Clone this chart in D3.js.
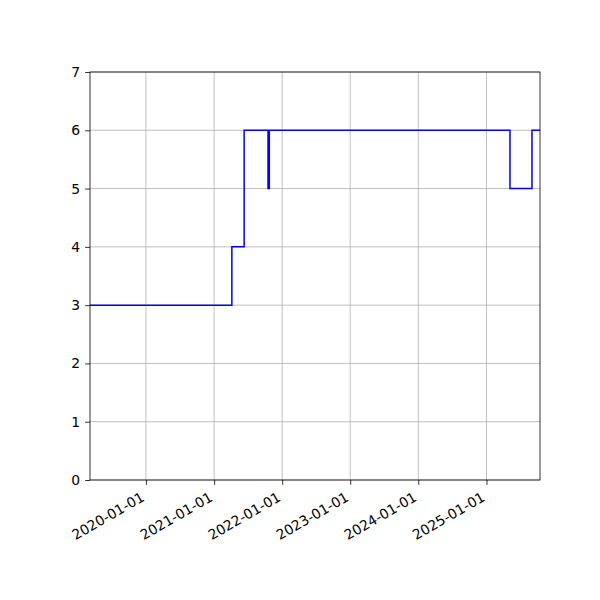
<!DOCTYPE html>
<html>
<head>
<meta charset="utf-8">
<script src="https://cdn.jsdelivr.net/npm/d3@7"></script>
<style>
  body { margin: 0; background: #fff; }
  svg text { font-family: "DejaVu Sans", sans-serif; }
</style>
</head>
<body>
<div id="chart"></div>
<script>
// step series, values (post-step)
const dates = ["2019-03-07", "2021-04-06", "2021-06-11", "2021-10-17", "2021-10-24",
               "2025-05-07", "2025-09-02", "2025-10-15"];
const values = [3, 4, 6, 5, 6, 5, 6, 6];
const yTicks = [0, 1, 2, 3, 4, 5, 6, 7];
const xTicks = ["2020-01-01", "2021-01-01", "2022-01-01", "2023-01-01", "2024-01-01", "2025-01-01"];

const margin = {top: 72, right: 60, bottom: 120, left: 90},
    width = 600 - margin.left - margin.right,
    height = 600 - margin.top - margin.bottom;

const parse = d3.utcParse("%Y-%m-%d");
const data = dates.map((d, i) => ({date: parse(d), value: values[i]}));

const svg = d3.select("#chart")
  .append("svg")
    .attr("width", 600)
    .attr("height", 600)
  .append("g")
    .attr("transform", `translate(${margin.left},${margin.top})`);

const x = d3.scaleUtc()
    .domain(d3.extent(data, d => d.date))
    .range([0, width]);
const y = d3.scaleLinear()
    .domain([0, 7])
    .range([height, 0]);

// grid
svg.append("g")
  .selectAll("line")
  .data(xTicks.map(parse))
  .join("line")
    .attr("x1", d => x(d)).attr("x2", d => x(d))
    .attr("y1", 0).attr("y2", height)
    .attr("stroke", "#b0b0b0").attr("stroke-width", 0.8);
svg.append("g")
  .selectAll("line")
  .data(yTicks)
  .join("line")
    .attr("x1", 0).attr("x2", width)
    .attr("y1", d => y(d)).attr("y2", d => y(d))
    .attr("stroke", "#b0b0b0").attr("stroke-width", 0.8);

// the step line
const line = d3.line()
    .x(d => x(d.date))
    .y(d => y(d.value))
    .curve(d3.curveStepAfter);

svg.append("path")
    .datum(data)
    .attr("fill", "none")
    .attr("stroke", "#0000ff")
    .attr("stroke-width", 1.5)
    .attr("d", line);

// axes
const xAxis = svg.append("g")
    .attr("transform", `translate(0,${height})`)
    .call(d3.axisBottom(x)
      .tickValues(xTicks.map(parse))
      .tickFormat(d3.utcFormat("%Y-%m-%d"))
      .tickSize(4.9)
      .tickPadding(4.9));
// rotated labels, right end tucked under the tick like autofmt_xdate
xAxis.selectAll(".tick text")
    .style("font-size", "13.9px")
    .attr("text-anchor", "end")
    .attr("x", null).attr("y", null).attr("dy", null)
    .attr("transform", "translate(-1,20) rotate(-30)");

const yAxis = svg.append("g")
    .call(d3.axisLeft(y)
      .tickValues(yTicks)
      .tickFormat(d3.format("d"))
      .tickSize(4.9)
      .tickPadding(4.9));
yAxis.selectAll("text").style("font-size", "13.9px");

[xAxis, yAxis].forEach(a => {
  a.select(".domain").remove();
  a.selectAll(".tick line").attr("stroke", "#000").attr("stroke-width", 0.8);
  a.selectAll("text").attr("fill", "#000");
});

// frame
svg.append("rect")
    .attr("width", width)
    .attr("height", height)
    .attr("fill", "none")
    .attr("stroke", "#000")
    .attr("stroke-width", 0.8);
</script>
</body>
</html>
